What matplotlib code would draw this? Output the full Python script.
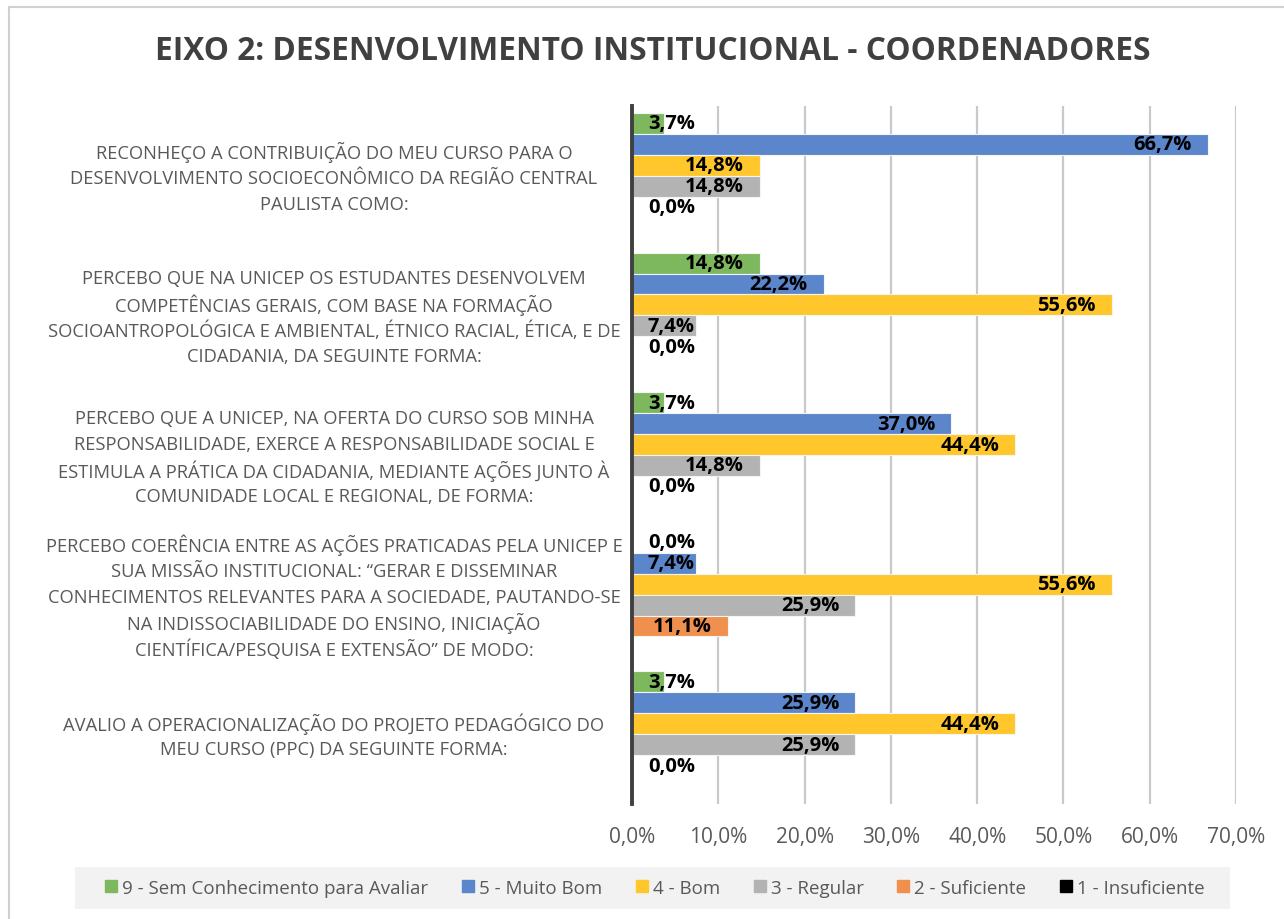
import numpy as np
import matplotlib
matplotlib.use("Agg")
import matplotlib.pyplot as plt
from matplotlib.lines import Line2D
from matplotlib.patches import Rectangle

plt.rcParams['font.family'] = ['Open Sans', 'DejaVu Sans']

## data
categories = [
    "RECONHEÇO A CONTRIBUIÇÃO DO MEU CURSO PARA O\nDESENVOLVIMENTO SOCIOECONÔMICO DA REGIÃO CENTRAL\nPAULISTA COMO:",
    "PERCEBO QUE NA UNICEP OS ESTUDANTES DESENVOLVEM\nCOMPETÊNCIAS GERAIS, COM BASE NA FORMAÇÃO\nSOCIOANTROPOLÓGICA E AMBIENTAL, ÉTNICO RACIAL, ÉTICA, E DE\nCIDADANIA, DA SEGUINTE FORMA:",
    "PERCEBO QUE A UNICEP, NA OFERTA DO CURSO SOB MINHA\nRESPONSABILIDADE, EXERCE A RESPONSABILIDADE SOCIAL E\nESTIMULA A PRÁTICA DA CIDADANIA, MEDIANTE AÇÕES JUNTO À\nCOMUNIDADE LOCAL E REGIONAL, DE FORMA:",
    "PERCEBO COERÊNCIA ENTRE AS AÇÕES PRATICADAS PELA UNICEP E\nSUA MISSÃO INSTITUCIONAL: “GERAR E DISSEMINAR\nCONHECIMENTOS RELEVANTES PARA A SOCIEDADE, PAUTANDO-SE\nNA INDISSOCIABILIDADE DO ENSINO, INICIAÇÃO\nCIENTÍFICA/PESQUISA E EXTENSÃO” DE MODO:",
    "AVALIO A OPERACIONALIZAÇÃO DO PROJETO PEDAGÓGICO DO\nMEU CURSO (PPC) DA SEGUINTE FORMA:",
]
series_names = ["9 - Sem Conhecimento para Avaliar", "5 - Muito Bom", "4 - Bom",
                "3 - Regular", "2 - Suficiente", "1 - Insuficiente"]
sem_conhecimento = [3.7, 14.8, 3.7, 0.0, 3.7]
muito_bom = [66.7, 22.2, 37.0, 7.4, 25.9]
bom = [14.8, 55.6, 44.4, 55.6, 44.4]
regular = [14.8, 7.4, 14.8, 25.9, 25.9]
suficiente = [0.0, 0.0, 0.0, 11.1, 0.0]
insuficiente = [np.nan, np.nan, np.nan, np.nan, np.nan]  # blank in the source
xticks = [0, 10, 20, 30, 40, 50, 60, 70]

series = [sem_conhecimento, muito_bom, bom, regular, suficiente, insuficiente]
colors = ['#7db85f', '#5b86cc', '#ffc72c', '#b3b3b3', '#f0904e', '#000000']

W, H = 1284, 920
fig = plt.figure(figsize=(W/100, H/100), dpi=100)
ax = fig.add_axes([632/W, 1-805/H, (1236-632)/W, (805-107)/H])

h = 0.15
ypos = np.arange(len(categories))
for i, (vals, col) in enumerate(zip(series, colors)):
    vals = np.array(vals, dtype=float)
    y = ypos + (i - 2.5)*h
    ok = ~np.isnan(vals)
    ax.barh(y[ok], vals[ok], height=h, color=col, edgecolor='#f4f4f4', linewidth=0.8, zorder=3)
    for yy, v in zip(y[ok], vals[ok]):
        ax.text(max(v - 1.85, 7.3), yy, ("%.1f%%" % v).replace('.', ','), ha='right', va='center',
                fontsize=14.5, fontweight='bold', color='black', zorder=4)

ax.set_xlim(0, 70)
ax.set_ylim(4.5, -0.5)
ax.set_xticks(xticks)
ax.set_xticklabels([("%.1f%%" % t).replace('.', ',') for t in xticks], fontsize=15, color='#595959')
ax.set_yticks([])
ax.tick_params(axis='x', length=0, pad=16)
ax.xaxis.grid(True, color='#c9c9c9', linewidth=1.6, zorder=0)
ax.set_axisbelow(True)
for s in ['top', 'right', 'bottom']:
    ax.spines[s].set_visible(False)
ax.spines['left'].set_color('#404040')
ax.spines['left'].set_linewidth(2.8)
ax.spines['left'].set_zorder(5)

# category labels, one line at a time so the spacing stays even
line_px = 26
for yy, lab in zip(ypos, categories):
    yc = ax.transData.transform((0, yy))[1]
    lines = lab.split("\n")
    for k, ln in enumerate(lines):
        ypix = yc + ((len(lines) - 1)/2 - k)*line_px
        fig.text(334/W, ypix/H, ln, ha='center', va='center_baseline',
                 fontsize=13.2, color='#595959')

fig.text(653/W, 1-52/H, "EIXO 2: DESENVOLVIMENTO INSTITUCIONAL - COORDENADORES",
         ha='center', va='center', fontsize=22.8, fontweight='bold', color='#404040')

# legend on a light grey band
fig.add_artist(Rectangle((75/W, 1-910/H), (1230-75)/W, 42/H, facecolor='#f2f2f2',
                         edgecolor='none', zorder=0))
handles = [Line2D([], [], marker='s', linestyle='none', markersize=9, color=c) for c in colors]
leg = fig.legend(handles, series_names, loc='center', bbox_to_anchor=(655/W, 1-889/H), ncol=6,
                 fontsize=13.5, frameon=False, handlelength=0.6, handletextpad=0.3,
                 columnspacing=1.8, borderpad=0.6, borderaxespad=0, labelcolor='#595959')

# outer border of the chart area
fig.add_artist(Line2D([9/W, 9/W], [0, 1-8/H], color='#d0d0d0', linewidth=1.5))
fig.add_artist(Line2D([9/W, 1], [1-8/H, 1-8/H], color='#d0d0d0', linewidth=1.5))

fig.savefig("out.png", dpi=100, facecolor='white')
